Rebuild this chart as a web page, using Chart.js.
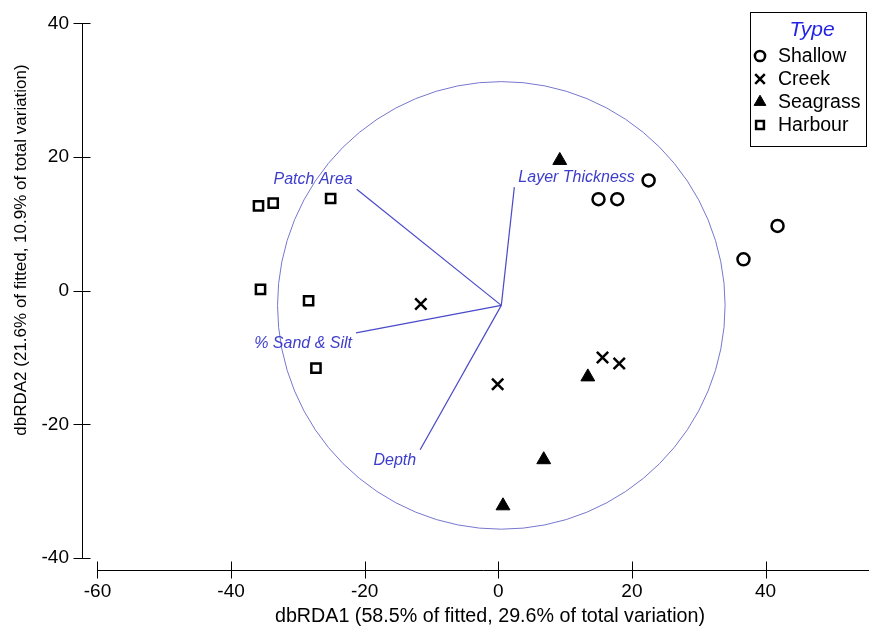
<!DOCTYPE html>
<html>
<head>
<meta charset="utf-8">
<script src="https://cdn.jsdelivr.net/npm/chart.js@4/dist/chart.umd.min.js"></script>
<style>
  html, body { margin: 0; padding: 0; background: #ffffff; }
  #wrap { width: 869px; height: 628px; }
</style>
</head>
<body>
<div id="wrap"><canvas id="c" width="869" height="628"></canvas></div>
<script>
// ---- data ----
const shallowX  = [22.5, 15.0, 17.8, 41.8, 36.7];
const shallowY  = [16.5, 13.7, 13.7, 9.7, 4.7];
const creekX    = [-11.6, -0.1, 15.6, 18.1];
const creekY    = [-2.0, -14.0, -10.0, -10.9];
const seagrassX = [9.2, 13.4, 6.8, 0.7];
const seagrassY = [19.5, -12.9, -25.3, -32.2];
const harbourX  = [-35.9, -33.7, -25.1, -35.6, -28.4, -27.3];
const harbourY  = [12.7, 13.1, 13.8, 0.2, -1.5, -11.6];

const vectorNames = ['Patch Area', 'Layer Thickness', '% Sand & Silt', 'Depth'];
const vectorEndX  = [-21.2, 2.4, -21.3, -11.7];
const vectorEndY  = [15.2, 15.5, -6.3, -23.8];
const vectorOriginX = 0.45;
const vectorOriginY = -2.2;
const circleRadius = 33.5;

const xTicks = [-60, -40, -20, 0, 20, 40];
const yTicks = [-40, -20, 0, 20, 40];
const xTitle = 'dbRDA1 (58.5% of fitted, 29.6% of total variation)';
const yTitle = 'dbRDA2 (21.6% of fitted, 10.9% of total variation)';
const legendTitle = 'Type';
const groupNames = ['Shallow', 'Creek', 'Seagrass', 'Harbour'];

const toPts = (xs, ys) => xs.map((x, i) => ({ x: x, y: ys[i] }));

const FONT = '"Liberation Sans", Arial, sans-serif';

const styles = [
  { pointStyle: 'circle',   radius: 6,   bw: 2.5, fill: 'rgba(0,0,0,0)' },
  { pointStyle: 'crossRot', radius: 8,   bw: 2.5, fill: '#000' },
  { pointStyle: 'triangle', radius: 8,   bw: 1,   fill: '#000' },
  { pointStyle: 'rect',     radius: 6.5, bw: 2.5, fill: 'rgba(0,0,0,0)' }
];
const series = [toPts(shallowX, shallowY), toPts(creekX, creekY), toPts(seagrassX, seagrassY), toPts(harbourX, harbourY)];

const datasets = series.map((pts, i) => ({
  label: groupNames[i],
  data: pts,
  pointStyle: styles[i].pointStyle,
  pointRadius: styles[i].radius,
  pointHoverRadius: styles[i].radius,
  pointBorderWidth: styles[i].bw,
  borderColor: '#000',
  pointBorderColor: '#000',
  pointBackgroundColor: styles[i].fill,
  backgroundColor: styles[i].fill,
  showLine: false,
  clip: false
}));

const overlay = {
  id: 'overlay',
  beforeDatasetsDraw(chart) {
    const ctx = chart.ctx, xs = chart.scales.x, ys = chart.scales.y;
    const X = v => xs.getPixelForValue(v), Y = v => ys.getPixelForValue(v);
    ctx.save();
    // axes
    ctx.strokeStyle = '#000';
    ctx.lineWidth = 1;
    const axX = Math.round(chart.chartArea.left) + 0.5;
    const axY = Math.round(chart.chartArea.bottom) + 0.5;
    ctx.beginPath();
    ctx.moveTo(axX, Y(yTicks[yTicks.length - 1]));
    ctx.lineTo(axX, Y(yTicks[0]));
    yTicks.forEach(t => { const p = Math.round(Y(t)) + 0.5; ctx.moveTo(axX - 9, p); ctx.lineTo(axX + 8, p); });
    ctx.moveTo(X(xTicks[0]), axY);
    ctx.lineTo(chart.width, axY);
    xTicks.forEach(t => { const p = Math.round(X(t)) + 0.5; ctx.moveTo(p, axY - 9); ctx.lineTo(p, axY + 8); });
    ctx.stroke();

    // correlation circle
    const cx = X(vectorOriginX), cy = Y(vectorOriginY);
    const r = X(vectorOriginX + circleRadius) - cx;
    ctx.strokeStyle = '#7676cf';
    ctx.lineWidth = 1;
    ctx.beginPath();
    ctx.arc(cx, cy, r, 0, Math.PI * 2);
    ctx.stroke();

    // vectors
    ctx.strokeStyle = '#4a4ac8';
    ctx.lineWidth = 1.2;
    ctx.fillStyle = '#3d3dcc';
    ctx.font = 'italic 16px ' + FONT;
    ctx.textBaseline = 'middle';
    vectorNames.forEach((name, i) => {
      const ex = X(vectorEndX[i]), ey = Y(vectorEndY[i]);
      ctx.beginPath();
      ctx.moveTo(cx, cy);
      ctx.lineTo(ex, ey);
      ctx.stroke();
      const left = vectorEndX[i] < vectorOriginX;
      const up = vectorEndY[i] > vectorOriginY;
      ctx.textAlign = left ? 'right' : 'left';
      ctx.fillText(name, ex + (left ? -4 : 4), ey + (up ? -10 : 11));
    });
    ctx.restore();
  },
  afterDraw(chart) {
    const ctx = chart.ctx;
    ctx.save();
    // axis titles
    ctx.fillStyle = '#000';
    ctx.font = '19.7px ' + FONT;
    ctx.textAlign = 'center';
    ctx.textBaseline = 'alphabetic';
    ctx.fillText(xTitle, 490, 622);
    ctx.translate(26, 250);
    ctx.rotate(-Math.PI / 2);
    ctx.font = '17px ' + FONT;
    ctx.fillText(yTitle, 0, 0);
    ctx.restore();

    // legend
    ctx.save();
    ctx.strokeStyle = '#000';
    ctx.lineWidth = 1;
    ctx.strokeRect(750.5, 12.5, 116, 134);
    ctx.fillStyle = '#2323e6';
    ctx.font = 'italic 21px ' + FONT;
    ctx.textAlign = 'center';
    ctx.textBaseline = 'alphabetic';
    ctx.fillText(legendTitle, 812, 36);
    ctx.font = '19.5px ' + FONT;
    ctx.textAlign = 'left';
    ctx.textBaseline = 'middle';
    groupNames.forEach((name, i) => {
      const yy = 56 + i * 23;
      const st = styles[i];
      ctx.strokeStyle = '#000';
      ctx.fillStyle = st.fill;
      ctx.lineWidth = st.bw;
      Chart.helpers.drawPoint(ctx, { pointStyle: st.pointStyle, radius: st.radius * 0.85, rotation: 0, borderWidth: st.bw }, 760, yy);
      ctx.fillStyle = '#000';
      ctx.fillText(name, 778, yy + 1);
    });
    ctx.restore();
  }
};

const zeroPad = s => { s.paddingLeft = 0; s.paddingRight = 0; s.paddingTop = 0; s.paddingBottom = 0; };

new Chart(document.getElementById('c'), {
  type: 'scatter',
  data: { datasets: datasets },
  plugins: [overlay],
  options: {
    responsive: false,
    animation: false,
    events: [],
    layout: { autoPadding: false, padding: { top: 10, right: 0, bottom: 0, left: 0 } },
    plugins: { legend: { display: false }, tooltip: { enabled: false } },
    scales: {
      x: {
        type: 'linear',
        min: -62.32, max: 55.49,
        grid: { display: false, drawTicks: false },
        border: { display: false },
        afterBuildTicks: s => { s.ticks = xTicks.map(v => ({ value: v })); },
        afterFit: s => { s.height = 58; zeroPad(s); },
        ticks: { color: '#000', font: { family: FONT, size: 19 }, padding: 10, maxRotation: 0, autoSkip: false }
      },
      y: {
        type: 'linear',
        min: -41.81, max: 42.02,
        grid: { display: false, drawTicks: false },
        border: { display: false },
        afterBuildTicks: s => { s.ticks = yTicks.map(v => ({ value: v })); },
        afterFit: s => { s.width = 82; zeroPad(s); },
        ticks: { color: '#000', font: { family: FONT, size: 19 }, padding: 13, autoSkip: false }
      }
    }
  }
});
</script>
</body>
</html>
